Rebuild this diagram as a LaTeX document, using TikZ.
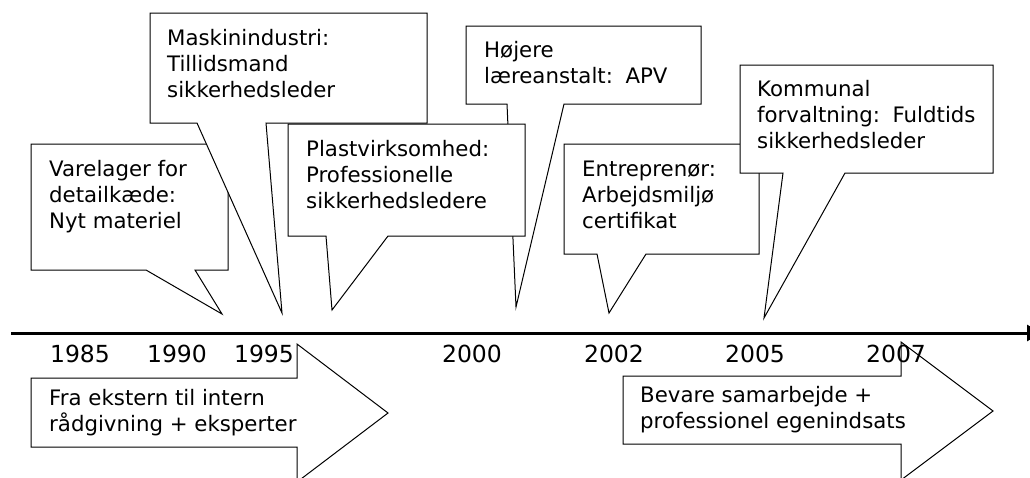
\documentclass[tikz,border=0pt]{standalone}
\usepackage{fontspec}
\setmainfont{DejaVu Sans}
\usetikzlibrary{arrows.meta}
\begin{document}
\begin{tikzpicture}[x=1pt,y=-1pt,
  bubble/.style={draw=black, fill=white, line width=1pt, line join=miter},
  blockarrow/.style={draw=black, fill=white, line width=1pt, line join=miter},
  % base anchor of a multi-line node sits on the baseline of its last line
  txt/.style={anchor=base west, align=left, inner sep=0pt,
    font=\fontsize{21.3}{26}\selectfont},
  year/.style={anchor=base, inner sep=0pt, font=\fontsize{23.5}{28}\selectfont},
  axisline/.style={line width=3pt, -{Triangle[length=14pt,width=16pt]}}]
\useasboundingbox (0,0) rectangle (1030,477);
\clip (0,0) rectangle (1030,477);

% speech bubbles, drawn back to front
\draw[bubble] (31,144) -- (228,144) -- (228,270) -- (195,270) -- (222,314)
  -- (146,270) -- (31,270) -- cycle;
\node[txt] (varelager) at (49,228) {Varelager for\\detailkæde:\\Nyt materiel};

\draw[bubble] (150,13) -- (427,13) -- (427,123) -- (266,123) -- (282,313)
  -- (197,123) -- (150,123) -- cycle;
\node[txt] (maskin) at (167,97) {Maskinindustri:\\Tillidsmand\\sikkerhedsleder};

\draw[bubble] (466,26) -- (701,26) -- (701,104) -- (564,104) -- (516,307)
  -- (507,104) -- (466,104) -- cycle;
\node[txt] (hojere) at (484,83) {Højere\\læreanstalt: \,APV};

\draw[bubble] (288,124) -- (525,124) -- (525,236) -- (388,236) -- (332,310)
  -- (326,236) -- (288,236) -- cycle;
\node[txt] (plast) at (306,208) {Plastvirksomhed:\\Professionelle\\sikkerhedsledere};

\draw[bubble] (564,144) -- (759,144) -- (759,254) -- (646,254) -- (609,313)
  -- (597,254) -- (564,254) -- cycle;
\node[txt] (entre) at (582,228) {Entreprenør:\\Arbejdsmiljø\\certifikat};

\draw[bubble] (740,65) -- (993,65) -- (993,173) -- (845,173) -- (764,318)
  -- (783,173) -- (740,173) -- cycle;
\node[txt] (kommunal) at (757,148) {Kommunal\\forvaltning: \,Fuldtids\\sikkerhedsleder};

% time axis
\coordinate (axisstart) at (11,333);
\coordinate (axisend) at (1041,333);
\draw[axisline] (axisstart) -- (axisend);

% block arrows for the two periods
\draw[blockarrow] (31,378) -- (297,378) -- (297,344) -- (388,413) -- (297,482)
  -- (297,447) -- (31,447) -- cycle;
\node[txt] (periode1) at (49,431) {Fra ekstern til intern\\rådgivning + eksperter};

\draw[blockarrow] (623,376) -- (901,376) -- (901,342) -- (993,411) -- (901,480)
  -- (901,444) -- (623,444) -- cycle;
\node[txt] (periode2) at (640,428) {Bevare samarbejde +\\professionel egenindsats};

% year labels
\node[year] (y1985) at (80,362) {1985};
\node[year] (y1990) at (177,362) {1990};
\node[year] (y1995) at (264,362) {1995};
\node[year] (y2000) at (472,362) {2000};
\node[year] (y2002) at (614,362) {2002};
\node[year] (y2005) at (755,362) {2005};
\node[year] (y2007) at (896,362) {2007};
\end{tikzpicture}
\end{document}
